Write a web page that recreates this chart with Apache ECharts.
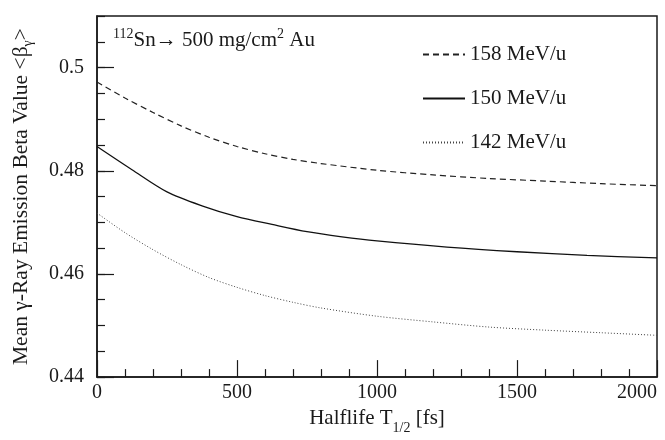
<!DOCTYPE html>
<html>
<head>
<meta charset="utf-8">
<title>beta vs halflife</title>
<script src="https://cdn.jsdelivr.net/npm/echarts@6/dist/echarts.min.js"></script>
<style>
  html, body { margin: 0; padding: 0; background: #fff; }
  #chart { width: 665px; height: 440px; }
</style>
</head>
<body>
<div id="chart"></div>
<script>
// halflife values (fs)
var tHalf = [0, 100, 200, 300, 400, 500, 600, 700, 800, 1000, 1200, 1400, 1600, 1800, 2000];
var tHalfSolid = [0, 125, 250, 375, 500, 625, 750, 875, 1000, 1250, 1500, 1750, 2000];
// mean beta
var beta158 = [0.4972, 0.4941, 0.4913, 0.4887, 0.4865, 0.4847, 0.4833, 0.4822, 0.4814, 0.4801, 0.4792, 0.4785, 0.4780, 0.4775, 0.4771];
var beta150 = [0.4847, 0.4802, 0.4759, 0.4732, 0.4711, 0.4696, 0.4682, 0.4672, 0.4664, 0.4652, 0.4643, 0.4636, 0.4631];
var beta142 = [0.4718, 0.4680, 0.4647, 0.4618, 0.4593, 0.4574, 0.4558, 0.4545, 0.4534, 0.4518, 0.4507, 0.4497, 0.4491, 0.4486, 0.4481];
var names = ['158 MeV/u', '150 MeV/u', '142 MeV/u'];

function pairs(xs, ys) {
  return xs.map(function (x, i) { return [x, ys[i]]; });
}

var font = '"Liberation Serif", "DejaVu Serif", serif';
var ink = '#1a1a1a';

var chart = echarts.init(document.getElementById('chart'), null, { renderer: 'canvas' });

var option = {
  animation: false,
  backgroundColor: '#fff',
  textStyle: { fontFamily: font, color: ink },
  grid: {
    left: 97, right: 8, top: 16, bottom: 62,
    show: true, borderColor: ink, borderWidth: 1.5, containLabel: false
  },
  title: {
    left: 108, top: 22,
    text: '{sup|112}{m|Sn\u2192 500 mg/cm}{sup|2}{m| Au}',
    textStyle: {
      fontFamily: font, fontWeight: 'normal',
      rich: {
        m: { fontFamily: font, fontSize: 21, fontWeight: 'normal', color: ink, lineHeight: 24, verticalAlign: 'bottom' },
        sup: { fontFamily: font, fontSize: 14, fontWeight: 'normal', color: ink, lineHeight: 14, padding: [0, 0, 10, 0], verticalAlign: 'bottom' }
      }
    }
  },
  legend: {
    orient: 'vertical',
    left: 417, top: 39,
    itemWidth: 42, itemHeight: 14, itemGap: 23,
    data: names,
    itemStyle: { opacity: 0 },
    textStyle: { fontFamily: font, fontSize: 21, color: ink }
  },
  xAxis: {
    type: 'value',
    min: 0, max: 2000, interval: 500,
    name: '{m|Halflife T}{s|1/2}{m| [fs]}',
    nameLocation: 'middle',
    nameGap: 30,
    nameTextStyle: {
      rich: {
        m: { fontFamily: font, fontSize: 21, color: ink, lineHeight: 24, verticalAlign: 'top' },
        s: { fontFamily: font, fontSize: 14, color: ink, lineHeight: 14, padding: [13, 0, 0, 0], verticalAlign: 'top' }
      }
    },
    axisLine: { lineStyle: { color: ink, width: 1.5 } },
    axisTick: { inside: true, length: 17, lineStyle: { color: ink, width: 1.2 } },
    minorTick: { show: true, splitNumber: 5, length: 8, lineStyle: { color: ink, width: 1.2 } },
    splitLine: { show: false },
    axisLabel: {
      fontFamily: font, fontSize: 20, color: ink, margin: 6, alignMaxLabel: 'right',
      formatter: function (v) { return String(v); }
    }
  },
  yAxis: [{
    type: 'value',
    min: 0.44, max: 0.51, interval: 0.02,
    name: 'Mean \u03b3-Ray Emission Beta Value <\u03b2{s|\u03b3}>',
    nameLocation: 'middle',
    nameGap: 65,
    nameTextStyle: {
      fontFamily: font, fontSize: 21.5, color: ink,
      rich: {
        s: { fontFamily: font, fontSize: 14, color: ink, lineHeight: 14, padding: [11, 0, 0, 0], verticalAlign: 'top' }
      }
    },
    axisLine: { lineStyle: { color: ink, width: 1.5 } },
    axisTick: { inside: true, length: 17, lineStyle: { color: ink, width: 1.2 } },
    splitLine: { show: false },
    axisLabel: { fontFamily: font, fontSize: 20, color: ink, margin: 13, showMaxLabel: false }
  }, {
    // short ticks every 0.005
    type: 'value',
    position: 'left',
    min: 0.44, max: 0.51, interval: 0.005,
    axisLine: { show: false },
    axisTick: { inside: true, length: 8, lineStyle: { color: ink, width: 1.2 } },
    axisLabel: { show: false },
    splitLine: { show: false }
  }],
  series: [{
    name: names[0],
    type: 'line',
    symbol: 'none',
    smooth: 0.3,
    data: pairs(tHalf, beta158),
    lineStyle: { color: '#222', width: 1.2, type: [6, 4] },
    itemStyle: { color: '#222' }
  }, {
    name: names[1],
    type: 'line',
    symbol: 'none',
    smooth: 0.3,
    data: pairs(tHalfSolid, beta150),
    lineStyle: { color: '#111', width: 1.3, type: 'solid' },
    itemStyle: { color: '#111' }
  }, {
    name: names[2],
    type: 'line',
    symbol: 'none',
    smooth: 0.3,
    data: pairs(tHalf, beta142),
    lineStyle: { color: '#444', width: 1, type: [1, 2] },
    itemStyle: { color: '#444' }
  }]
};

chart.setOption(option);
</script>
</body>
</html>
